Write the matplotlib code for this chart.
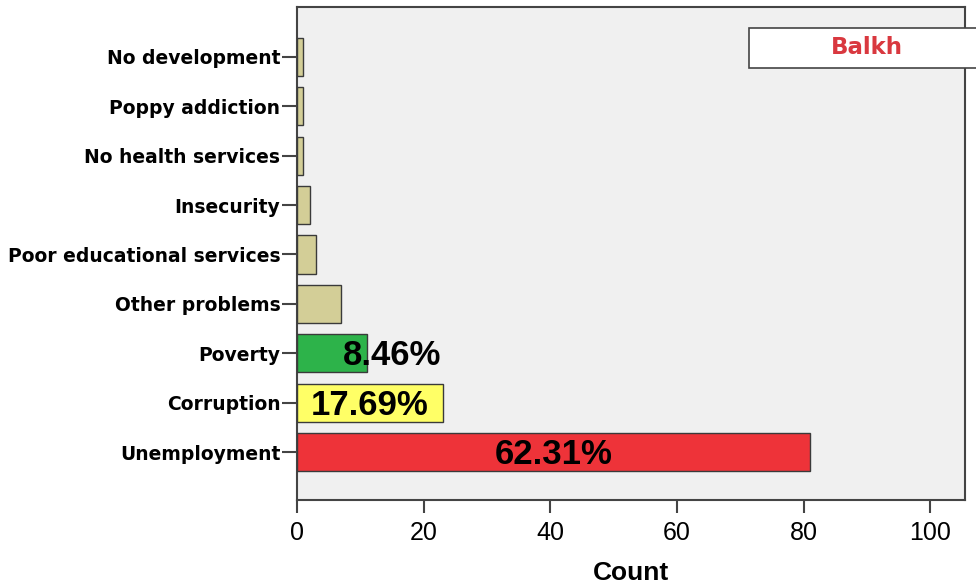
import matplotlib.pyplot as plt
from matplotlib.patches import Rectangle

# Data (bottom to top)
categories = ['Unemployment', 'Corruption', 'Poverty', 'Other problems',
              'Poor educational services', 'Insecurity', 'No health services',
              'Poppy addiction', 'No development']
counts = [81, 23, 11, 7, 3, 2, 1, 1, 1]
colors = ['#EE3339', '#FFFF66', '#2DB34A', '#D3CE97', '#D3CE97',
          '#D3CE97', '#D3CE97', '#D3CE97', '#D3CE97']
pct_labels = ['62.31%', '17.69%', '8.46%']
xticks = [0, 20, 40, 60, 80, 100]

plt.rcParams['font.family'] = ['Liberation Sans', 'DejaVu Sans']

fig = plt.figure(figsize=(9.76, 5.85), dpi=100)
ax = fig.add_axes([0.3043, 0.1453, 0.6844, 0.8419])
ax.set_facecolor('#F0F0F0')

y = list(range(len(categories)))
ax.barh(y, counts, height=0.77, color=colors, edgecolor='#3a3a3a', linewidth=1.0, zorder=3)

# percentage labels on the three largest bars
for i, lab in enumerate(pct_labels):
    v = counts[i]
    lx = v / 2 if v > 20 else v + 4
    ax.text(lx, y[i] - 0.05, lab, ha='center', va='center', fontsize=25,
            fontweight='bold', color='black', zorder=4)

ax.set_xlim(0, 105.5)
ax.set_ylim(-0.97, 9.0)
ax.set_xticks(xticks)
ax.set_xticklabels([str(t) for t in xticks], fontsize=18)
ax.set_yticks(y)
ax.set_yticklabels(categories, fontsize=13.5, fontweight='bold', family='DejaVu Sans')
ax.tick_params(axis='x', direction='out', length=9, width=1.5, color='#444444', pad=6)
ax.tick_params(axis='y', direction='out', length=11, width=1.5, color='#444444', pad=1)
for s in ax.spines.values():
    s.set_color('#444444')
    s.set_linewidth(1.5)

ax.set_xlabel('Count', fontsize=19, fontweight='bold', labelpad=12)

# panel label box
fig.patches.append(Rectangle((749 / 976, 1 - 68 / 585), 240 / 976, 40 / 585,
                             transform=fig.transFigure, facecolor='white',
                             edgecolor='#444444', linewidth=1.2, zorder=5))
fig.text(867 / 976, 1 - 48 / 585, 'Balkh', ha='center', va='center',
         fontsize=16.5, fontweight='bold', color='#D9383F', family='DejaVu Sans',
         zorder=6)

plt.savefig('out.png', dpi=100)
